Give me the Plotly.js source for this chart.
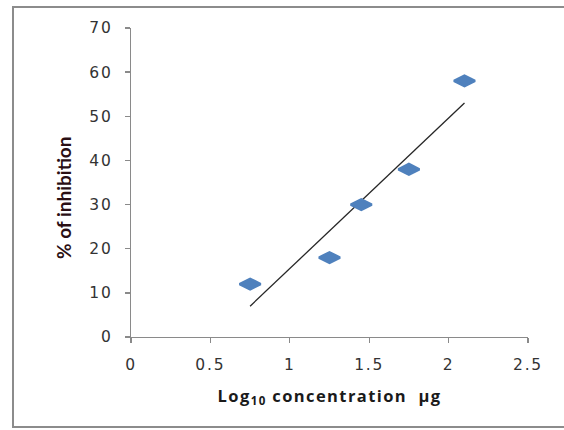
<!DOCTYPE html>
<html>
<head>
<meta charset="utf-8">
<script src="https://cdn.plot.ly/plotly-3.0.1.min.js"></script>
<style>
html,body{margin:0;padding:0;background:#fff;}
#chart{width:564px;height:430px;}
/* the reference renders its labels wide */
#chart g.xtick text, #chart g.ytick text { letter-spacing: 1.8px; }
#chart text.xtitle { letter-spacing: 1.4px; }
</style>
</head>
<body>
<div id="chart"></div>
<script>
// Data
const logConcentration = [0.75, 1.25, 1.45, 1.75, 2.1];
const inhibitionPercent = [12, 18, 30, 38, 58];
const xTickValues = [0, 0.5, 1, 1.5, 2, 2.5];
const xTickLabels = ['0', '0.5', '1', '1.5', '2', '2.5'];
const yTickValues = [0, 10, 20, 30, 40, 50, 60, 70];
const yTickLabels = ['0', '10', '20', '30', '40', '50', '60', '70'];

// Linear trendline (least squares) from the data
const n = logConcentration.length;
const mx = logConcentration.reduce((a, b) => a + b, 0) / n;
const my = inhibitionPercent.reduce((a, b) => a + b, 0) / n;
let sxy = 0, sxx = 0;
for (let i = 0; i < n; i++) {
  sxy += (logConcentration[i] - mx) * (inhibitionPercent[i] - my);
  sxx += (logConcentration[i] - mx) ** 2;
}
const slope = sxy / sxx;
const intercept = my - slope * mx;
const xMin = Math.min(...logConcentration);
const xMax = Math.max(...logConcentration);
const trendX = [xMin, xMax];
const trendY = trendX.map(x => intercept + slope * x);

const tickFont = {family: 'DejaVu Sans, Verdana, sans-serif', size: 15.5, color: '#333333'};

const data = [
  {
    x: trendX, y: trendY, type: 'scatter', mode: 'lines',
    line: {color: '#262626', width: 1.3},
    hoverinfo: 'skip', showlegend: false
  },
  {
    x: logConcentration, y: inhibitionPercent, type: 'scatter', mode: 'markers',
    marker: {symbol: 'diamond-wide', size: 15, color: '#4F81BD',
             line: {color: '#4F81BD', width: 2.5}},
    showlegend: false
  }
];

const layout = {
  width: 564, height: 430,
  margin: {l: 131, r: 36, t: 28, b: 93},
  paper_bgcolor: '#ffffff', plot_bgcolor: '#ffffff',
  showlegend: false,
  xaxis: {
    range: [0, 2.5], tickvals: xTickValues, ticktext: xTickLabels,
    showgrid: false, zeroline: false, showline: true,
    linecolor: '#8a8a8a', linewidth: 1.3,
    ticks: 'outside', ticklen: 5, tickcolor: '#8a8a8a', tickwidth: 1.3,
    tickfont: tickFont, ticklabelstandoff: 8,
    title: {text: 'Log<sub>10</sub> concentration\u00a0\u00a0µg',
            font: {family: 'Open Sans, Lato, sans-serif', size: 16.5, color: '#1a1a1a', weight: 'bold'},
            standoff: 17}
  },
  yaxis: {
    range: [0, 70], tickvals: yTickValues, ticktext: yTickLabels,
    showgrid: false, zeroline: false, showline: true,
    linecolor: '#8a8a8a', linewidth: 1.3,
    ticks: 'outside', ticklen: 5, tickcolor: '#8a8a8a', tickwidth: 1.3,
    tickfont: tickFont, ticklabelstandoff: 9
  },
  annotations: [{
    text: '% of inhibition', textangle: -90,
    xref: 'paper', yref: 'paper', x: (63 - 131) / 397, y: (337 - 198) / 309,
    xanchor: 'center', yanchor: 'middle', showarrow: false,
    font: {family: 'Liberation Sans Narrow, Arial Narrow, Lato, sans-serif', size: 19, color: '#2a0f14', weight: 'bold'}
  }],
  shapes: [{
    type: 'rect', xref: 'paper', yref: 'paper',
    x0: (13 - 131) / 397, x1: (575 - 131) / 397,
    y0: (337 - 427) / 309, y1: (337 - 7) / 309,
    line: {color: '#8c8c8c', width: 2}, fillcolor: 'rgba(0,0,0,0)', layer: 'below'
  }]
};

Plotly.newPlot('chart', data, layout, {displayModeBar: false, staticPlot: true});
</script>
</body>
</html>
